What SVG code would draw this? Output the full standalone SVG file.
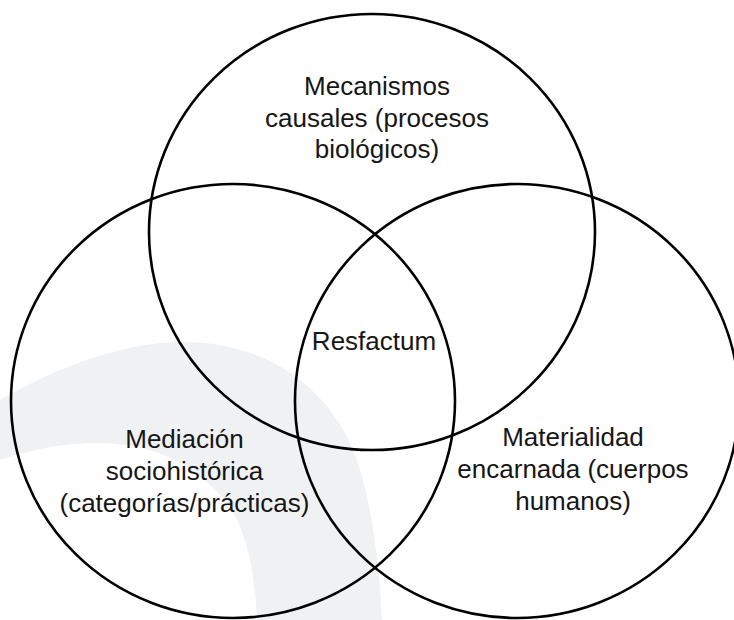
<svg xmlns="http://www.w3.org/2000/svg" width="734" height="620" viewBox="0 0 734 620">
  <style>
    .ring { fill: none; stroke: #000; stroke-width: 2.6; }
    .lbl { font-family: "Liberation Sans", Arial, Helvetica, sans-serif; font-size: 26px; fill: #161616; text-anchor: middle; }
  </style>
  <rect width="734" height="620" fill="#ffffff"/>
  <path id="watermark" fill="#f0f1f3" d="M0,400 C60,365 130,340 190,342 C280,345 340,400 360,470 C375,520 380,580 382,620 L257,620 C255,570 245,520 220,495 C190,462 150,443 100,443 C60,443 30,450 0,460 Z"/>
  <g id="connectors"/>
  <g id="node-mecanismos">
    <ellipse class="ring" cx="372" cy="232" rx="223" ry="218"/>
    <text class="lbl" x="377" y="94.5">Mecanismos</text>
    <text class="lbl" x="377" y="126.5">causales (procesos</text>
    <text class="lbl" x="377" y="157.5">biológicos)</text>
  </g>
  <g id="node-mediacion">
    <ellipse class="ring" cx="233" cy="401" rx="222" ry="217"/>
    <text class="lbl" x="184.5" y="448">Mediación</text>
    <text class="lbl" x="184.5" y="480">sociohistórica</text>
    <text class="lbl" x="184.5" y="512">(categorías/prácticas)</text>
  </g>
  <g id="node-materialidad">
    <ellipse class="ring" cx="517" cy="401" rx="222" ry="217"/>
    <text class="lbl" x="573" y="446">Materialidad</text>
    <text class="lbl" x="573" y="478">encarnada (cuerpos</text>
    <text class="lbl" x="573" y="510">humanos)</text>
  </g>
  <g id="node-resfactum">
    <text class="lbl" x="374" y="350">Resfactum</text>
  </g>
</svg>
